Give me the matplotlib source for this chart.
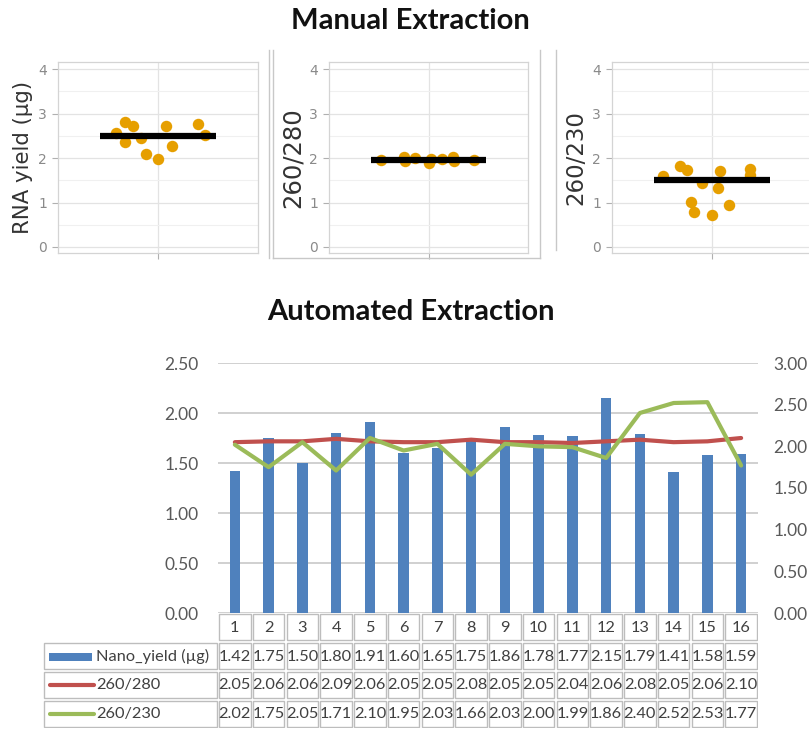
import matplotlib
matplotlib.use('Agg')
import matplotlib.pyplot as plt
from matplotlib.patches import Rectangle
from matplotlib.lines import Line2D
import numpy as np

W, H = 809, 731

# ---- manual extraction (three strip plots) ----
rna_x = [-0.42, -0.33, -0.25, -0.33, -0.17, -0.12, 0.0, 0.08, 0.14, 0.40, 0.47]
rna_y = [2.57, 2.80, 2.72, 2.36, 2.46, 2.09, 1.97, 2.72, 2.27, 2.76, 2.51]
r280_x = [-0.48, -0.25, -0.24, -0.14, 0.0, 0.03, 0.14, 0.25, 0.26, 0.46]
r280_y = [1.95, 2.03, 1.93, 2.01, 1.88, 1.99, 1.97, 2.03, 1.93, 1.95]
r230_x = [-0.49, -0.32, -0.25, -0.10, 0.08, 0.06, -0.21, -0.18, 0.0, 0.17, 0.38, 0.38]
r230_y = [1.59, 1.82, 1.73, 1.43, 1.71, 1.33, 1.02, 0.79, 0.73, 0.94, 1.76, 1.61]
manual_means = [2.49, 1.95, 1.50]
manual_labels = ['RNA yield (µg)', '260/280', '260/230']

# ---- automated extraction ----
samples = list(range(1, 17))
nano_yield = [1.42, 1.75, 1.50, 1.80, 1.91, 1.60, 1.65, 1.75, 1.86, 1.78, 1.77, 2.15, 1.79, 1.41, 1.58, 1.59]
ratio_280 = [2.05, 2.06, 2.06, 2.09, 2.06, 2.05, 2.05, 2.08, 2.05, 2.05, 2.04, 2.06, 2.08, 2.05, 2.06, 2.10]
ratio_230 = [2.02, 1.75, 2.05, 1.71, 2.10, 1.95, 2.03, 1.66, 2.03, 2.00, 1.99, 1.86, 2.40, 2.52, 2.53, 1.77]
series_names = ['Nano_yield (µg)', '260/280', '260/230']

BLUE, RED, GREEN = '#4F81BD', '#C0504D', '#9BBB59'
ORANGE = '#E69F00'


def box(l, t, r, b):
    # pixel box -> figure fraction rect
    return [l / W, 1 - b / H, (r - l) / W, (b - t) / H]


fig = plt.figure(figsize=(W / 100, H / 100), dpi=100)

fig.text(410 / W, 1 - 21 / H, 'Manual Extraction', ha='center', va='center',
         fontsize=21, fontweight='bold', family=['Lato', 'DejaVu Sans'], color='#111111')
fig.text(411 / W, 1 - 312 / H, 'Automated Extraction', ha='center', va='center',
         fontsize=21, fontweight='bold', family=['Lato', 'DejaVu Sans'], color='#111111')

panel_px = [(58, 62, 258, 253), (329, 62, 528, 253), (612, 62, 812, 253)]
label_x = [23, 293, 576]
label_size = [15.3, 17.5, 16.5]
strips = [(rna_x, rna_y), (r280_x, r280_y), (r230_x, r230_y)]

for i, (px, (xs, ys)) in enumerate(zip(panel_px, strips)):
    a = fig.add_axes(box(*px))
    a.set_xlim(-1, 1)
    a.set_ylim(-0.135, 4.16)
    a.set_yticks([0, 1, 2, 3, 4])
    a.set_yticks([0.5, 1.5, 2.5, 3.5], minor=True)
    a.set_xticks([0])
    a.set_xticklabels([''])
    a.grid(True, which='major', color='#E3E3E3', lw=0.9)
    a.grid(True, which='minor', axis='y', color='#F0F0F0', lw=0.8)
    a.set_axisbelow(True)
    for s in a.spines.values():
        s.set_color('#D4D4D4')
        s.set_linewidth(0.9)
    a.tick_params(which='major', length=4, color='#B0B0B0', labelcolor='#8A8A8A',
                  labelsize=10, pad=4)
    a.tick_params(which='minor', length=0)
    a.scatter(xs, ys, s=68, color=ORANGE, zorder=2, linewidths=0)
    a.plot([-0.58, 0.58], [manual_means[i]] * 2, color='black', lw=4.5,
           solid_capstyle='butt', zorder=3)
    fig.text(label_x[i] / W, 1 - 157.5 / H, manual_labels[i], rotation=90,
             ha='center', va='center', fontsize=label_size[i], color='#333333')

# composition frame lines between the panels
frame_c = '#C8C8C8'
for seg in [((269, 50), (269, 258)), ((273, 50), (273, 258)), ((273, 258), (540, 258)),
            ((540, 50), (540, 258)), ((556, 50), (556, 250))]:
    (x0, y0), (x1, y1) = seg
    fig.add_artist(Line2D([x0 / W, x1 / W], [1 - y0 / H, 1 - y1 / H],
                          color=frame_c, lw=1, transform=fig.transFigure))

# ---- combo chart ----
tick_font = dict(family=['Lato', 'DejaVu Sans'], size=12.5, color='#595959')
ax = fig.add_axes(box(218, 363, 758, 613))
ax.bar(samples, nano_yield, width=0.31, color=BLUE, zorder=2)
ax.set_xlim(0.5, 16.5)
ax.set_ylim(0, 2.5)
ax.set_yticks(np.arange(0, 2.51, 0.5))
ax.set_yticklabels(['%.2f' % v for v in np.arange(0, 2.51, 0.5)], **tick_font)
ax.set_xticks([])
ax.yaxis.grid(True, color='#D0D0D0', lw=1.4)
ax.set_axisbelow(True)
ax.tick_params(axis='y', length=0, pad=14)
for s in ax.spines.values():
    s.set_visible(False)

ax2 = ax.twinx()
ax2.set_ylim(0, 3)
ax2.set_yticks(np.arange(0, 3.01, 0.5))
ax2.set_yticklabels(['%.2f' % v for v in np.arange(0, 3.01, 0.5)], **tick_font)
ax2.tick_params(axis='y', length=0, pad=11)
for s in ax2.spines.values():
    s.set_visible(False)
ax2.plot(samples, ratio_280, color=RED, lw=3, solid_capstyle='round', solid_joinstyle='round')
ax2.plot(samples, ratio_230, color=GREEN, lw=3, solid_capstyle='round', solid_joinstyle='round')

# ---- data table under the chart ----
cell_font = dict(family=['Lato', 'DejaVu Sans'], size=11.8, color='#404040')
col_w = 540 / 16
lab_left = 0.5 - (218 - 43) / col_w
tab = fig.add_axes(box(43, 613, 758, 728))
tab.set_xlim(lab_left, 16.5)
tab.set_ylim(4, 0)
tab.axis('off')

edge = '#BDBDBD'
ins_x, ins_y = 0.035, 0.045


def cell(x0, x1, y0, y1):
    tab.add_patch(Rectangle((x0 + ins_x, y0 + ins_y), x1 - x0 - 2 * ins_x, y1 - y0 - 2 * ins_y,
                            facecolor='white', edgecolor=edge, lw=1))


for k in samples:
    cell(k - 0.5, k + 0.5, 0, 1)
    tab.text(k, 0.52, str(k), ha='center', va='center', **cell_font)

rows = [nano_yield, ratio_280, ratio_230]
for r, (name, vals) in enumerate(zip(series_names, rows), start=1):
    cell(lab_left, 0.5, r, r + 1)
    for k, v in zip(samples, vals):
        cell(k - 0.5, k + 0.5, r, r + 1)
        tab.text(k, r + 0.52, '%.2f' % v, ha='center', va='center', **cell_font)
    tab.text(lab_left + 1.58, r + 0.52, name, ha='left', va='center', **cell_font)

# legend keys inside the table
tab.add_patch(Rectangle((lab_left + 0.18, 1.38), 1.27, 0.28, facecolor=BLUE, edgecolor='none'))
tab.plot([lab_left + 0.2, lab_left + 1.5], [2.5, 2.5], color=RED, lw=3, solid_capstyle='round')
tab.plot([lab_left + 0.2, lab_left + 1.5], [3.5, 3.5], color=GREEN, lw=3, solid_capstyle='round')

fig.savefig('out.png', dpi=100)
